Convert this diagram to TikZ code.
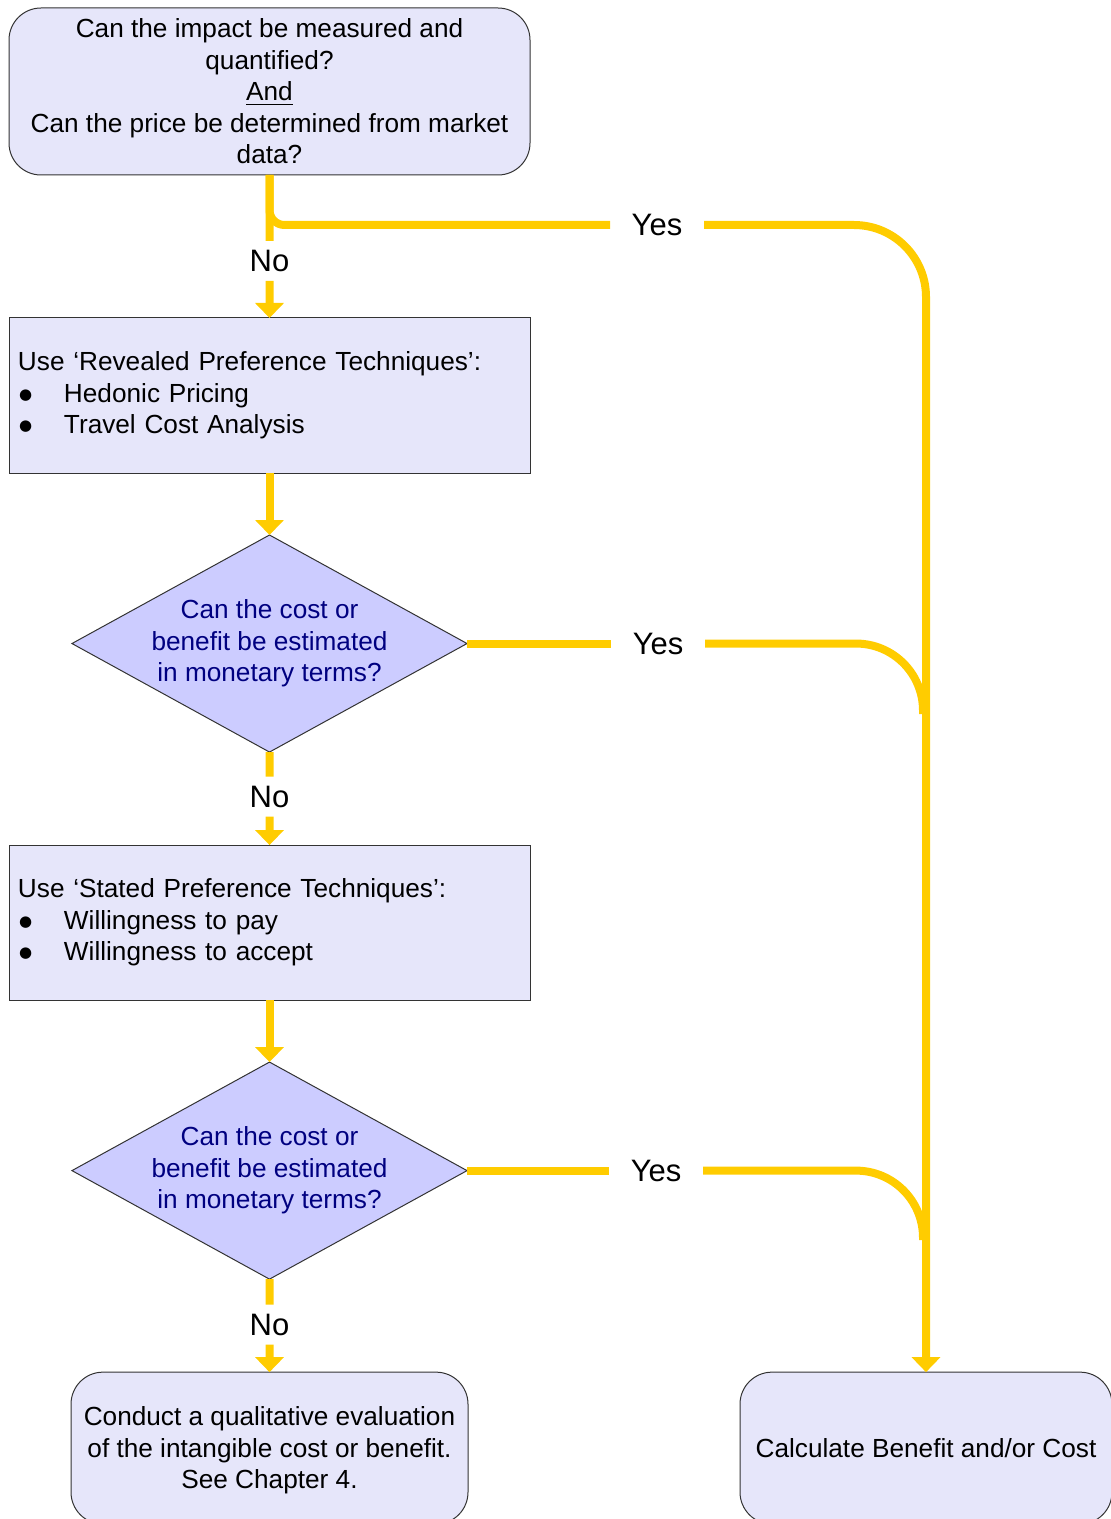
\documentclass[tikz,border=0pt]{standalone}
\usepackage{fontspec}
\setmainfont{Liberation Sans}
\newfontfamily\symfont{DejaVu Sans}
\usetikzlibrary{arrows.meta,shapes.geometric,positioning,calc}
\definecolor{boxfill}{HTML}{E6E6FA}
\definecolor{diafill}{HTML}{CCCCFF}
\definecolor{flowyellow}{HTML}{FFCC00}
\definecolor{navytext}{HTML}{000080}
\definecolor{edgegray}{HTML}{333333}

\begin{document}
\begin{tikzpicture}[x=0.5pt,y=-0.5pt]
    \tikzstyle{every node}=[font=\fontsize{13.1pt}{15.75pt}\selectfont, inner sep=0pt, outer sep=0pt]
    \tikzstyle{roundbox}=[draw=edgegray, line width=0.5pt, fill=boxfill, rectangle, rounded corners=16pt, align=center]
    \tikzstyle{plainbox}=[draw=edgegray, line width=0.5pt, fill=boxfill, rectangle, minimum width=260.5pt, minimum height=77.5pt, text width=251.5pt, align=left]
    \tikzstyle{question}=[draw=edgegray, line width=0.5pt, fill=diafill, diamond, aspect=1.82, minimum width=197.5pt, minimum height=108.5pt, text=navytext, align=center]
    \tikzstyle{answer}=[font=\fontsize{15.5pt}{18pt}\selectfont, minimum height=20pt]
    \tikzstyle{yes}=[font=\fontsize{15.5pt}{18pt}\selectfont, minimum width=47pt, minimum height=20pt]
    \tikzstyle{flow}=[draw=flowyellow, line width=4pt]
    \tikzstyle{flowarrow}=[-{Triangle[width=14pt,length=7.5pt]}]
    \newcommand{\bulletitem}[1]{\makebox[23pt][l]{\hspace{0.6pt}\raisebox{1.6pt}{\symfont\fontsize{7.5pt}{0pt}\selectfont ●}}#1}

    \useasboundingbox (0,0) rectangle (1111,1519);
    \clip (0,0) rectangle (1111,1519);

    \node[roundbox, minimum width=260.5pt, minimum height=83.5pt] (top) at (269.5,91.5)
        {Can the impact be measured and\\quantified?\\\underline{And}\\Can the price be determined from market\\data?};
    \node[plainbox] (revealed) [below=71.5pt of top]
        {Use ‘Revealed Preference Techniques’:\\\bulletitem{Hedonic Pricing}\\\bulletitem{Travel Cost Analysis}};
    \node[question] (ask1) [below=31pt of revealed] {Can the cost or\\benefit be estimated\\in monetary terms?};
    \node[plainbox] (stated) [below=46.5pt of ask1]
        {Use ‘Stated Preference Techniques’:\\\bulletitem{Willingness to pay}\\\bulletitem{Willingness to accept}};
    \node[question] (ask2) [below=31pt of stated] {Can the cost or\\benefit be estimated\\in monetary terms?};
    \node[roundbox, minimum width=198.5pt, minimum height=76pt] (qual) [below=46.5pt of ask2]
        {\rule{0pt}{12pt}Conduct a qualitative evaluation\\of the intangible cost or benefit.\\See Chapter 4.};
    \node[roundbox, minimum width=186pt, minimum height=76pt] (compute) [right=136pt of qual]
        {Calculate Benefit and/or Cost};

    % labels on the connectors
    \node[answer] (no1) at ($(top.south)!0.6!(revealed.north)$) {No};
    \node[answer] (no2) at ($(ask1.south)!0.48!(stated.north)$) {No};
    \node[answer] (no3) at ($(ask2.south)!0.49!(qual.north)$) {No};
    \node[yes] (yes1) at (657,225) {Yes};
    \node[yes] (yes2) [right=72pt of ask1] {Yes};
    \node[yes] (yes3) [right=71pt of ask2] {Yes};
    \coordinate (j2) at (923,714);
    \coordinate (j3) at (923,1240);

    \draw[flow] (top.south) -- (no1.north);
    \draw[flow, rounded corners=7.5pt] (top.south) |- (yes1.west);
    \draw[flow, flowarrow] (no1.south) -- (revealed.north);
    \draw[flow, flowarrow] (revealed.south) -- (ask1.north);
    \draw[flow] (ask1.south) -- (no2.north);
    \draw[flow, flowarrow] (no2.south) -- (stated.north);
    \draw[flow, flowarrow] (stated.south) -- (ask2.north);
    \draw[flow] (ask2.south) -- (no3.north);
    \draw[flow, flowarrow] (no3.south) -- (qual.north);

    \draw[flow] (ask1.east) -- (yes2.west);
    \draw[flow] (ask2.east) -- (yes3.west);
    \draw[flow, flowarrow, rounded corners=36pt] (yes1.east) -| (compute.north);
    \draw[flow, rounded corners=33.5pt] (yes2.east) -| (j2);
    \draw[flow, rounded corners=33.5pt] (yes3.east) -| (j3);
\end{tikzpicture}
\end{document}
